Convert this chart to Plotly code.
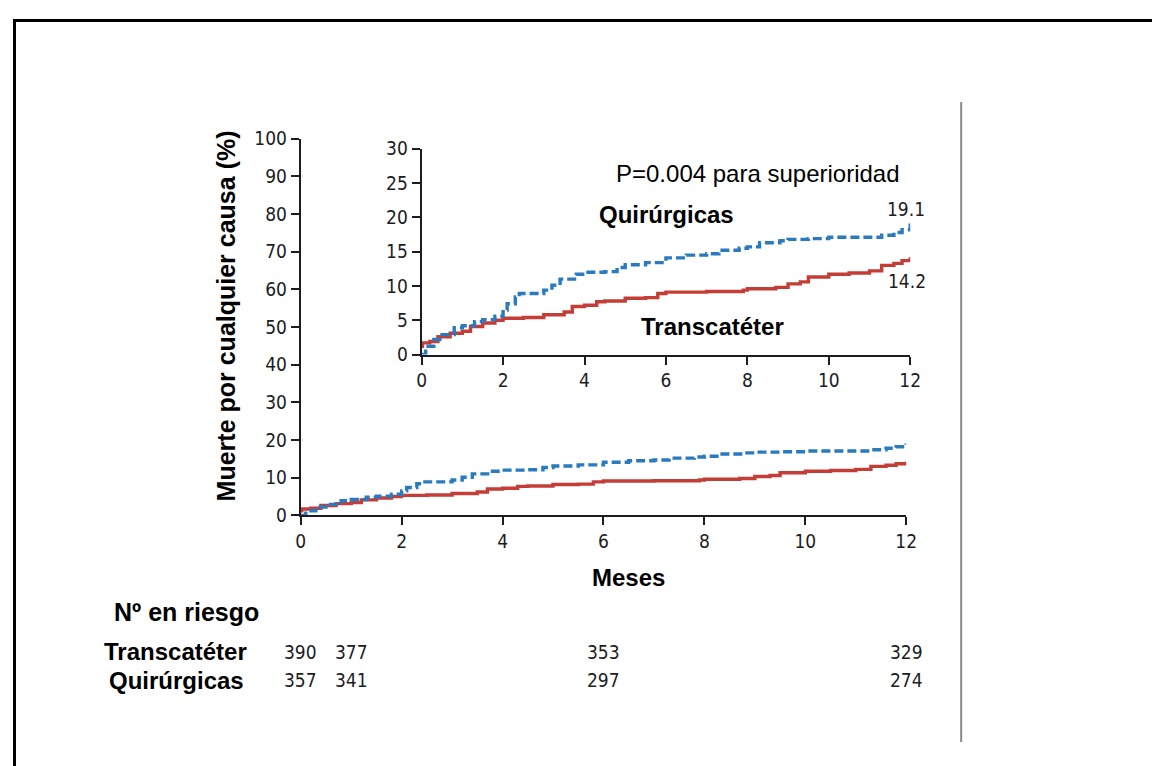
"""Kaplan-Meier style chart: death from any cause, transcatheter vs surgical."""

import plotly.graph_objects as go

W, H = 1160, 766

# curves (months, %)
quir_months = [0, 0.1, 0.3, 0.5, 0.8, 1.0, 1.3, 1.5, 1.8, 2.0, 2.1, 2.3, 2.4, 2.8, 3.0, 3.2,
               3.4, 3.8, 4.0, 4.5, 4.8, 5.0, 5.5, 6.0, 6.5, 7.0, 7.3, 7.8, 8.0, 8.3, 8.8,
               9.0, 9.5, 10.0, 10.5, 11.0, 11.3, 11.6, 11.8, 12.0]
quir_pct = [0, 1.2, 2.2, 2.9, 3.9, 4.2, 4.8, 5.1, 5.6, 6.5, 7.4, 8.4, 8.9, 8.9, 9.4, 10.1,
            11.0, 11.7, 12.0, 12.1, 12.7, 13.1, 13.4, 14.1, 14.5, 14.7, 15.2, 15.5, 15.7,
            16.3, 16.6, 16.8, 16.9, 17.1, 17.1, 17.1, 17.4, 17.8, 18.2, 19.1]

trans_months = [0, 0.02, 0.2, 0.4, 0.7, 1.0, 1.2, 1.5, 1.8, 2.0, 2.5, 3.0, 3.3, 3.5, 3.7,
                4.0, 4.3, 4.5, 5.0, 5.5, 5.8, 6.0, 7.0, 7.9, 8.0, 8.7, 9.0, 9.3, 9.5, 10.0,
                10.5, 11.0, 11.3, 11.6, 11.8, 12.0]
trans_pct = [1.2, 1.7, 1.9, 2.6, 3.1, 3.4, 4.1, 4.6, 5.0, 5.3, 5.4, 5.8, 5.8, 6.2, 7.0,
             7.2, 7.7, 7.8, 8.2, 8.3, 8.9, 9.1, 9.2, 9.4, 9.6, 9.8, 10.3, 10.6, 11.3, 11.7,
             11.9, 12.2, 13.0, 13.3, 13.7, 14.2]

main_yticks = list(range(0, 101, 10))
inset_yticks = list(range(0, 31, 5))
xticks = list(range(0, 13, 2))

risk_months = [0, 1, 6, 12]
risk_trans = [390, 377, 353, 329]
risk_quir = [357, 341, 297, 274]

RED = "#C43E37"
BLUE = "#2A7AC0"
INK = "#1c1c24"
NUM_FONT = dict(family="DejaVu Sans Condensed, DejaVu Sans, sans-serif", size=19, color=INK)
BOLD = "Liberation Sans, Arial, sans-serif"
LABEL_FONT = dict(family=BOLD, size=24, color="black")

# the page ends up drawn in a slightly smaller box, offset from the corner
OX, OY, BW, BH = 12, 18, 1145, 745


def px_x(v):
    return (v - OX) / BW


def px_y(v):
    return 1 - (v - OY) / BH


fig = go.Figure()

for xa, ya in (("x", "y"), ("x2", "y2")):
    fig.add_trace(go.Scatter(
        x=trans_months, y=trans_pct, mode="lines", line_shape="hv",
        line=dict(color=RED, width=3.4), xaxis=xa, yaxis=ya, showlegend=False,
    ))
    fig.add_trace(go.Scatter(
        x=quir_months, y=quir_pct, mode="lines", line_shape="hv",
        line=dict(color=BLUE, width=3.4, dash="9px,4px"), xaxis=xa, yaxis=ya, showlegend=False,
    ))

axis_common = dict(
    showgrid=False, zeroline=False, showline=True, linecolor=INK, linewidth=2,
    ticks="outside", ticklen=8, tickwidth=2, tickcolor=INK, tickfont=NUM_FONT,
    fixedrange=True,
)

fig.update_layout(
    width=W, height=H,
    margin=dict(l=0, r=0, t=0, b=0),
    paper_bgcolor="white", plot_bgcolor="rgba(0,0,0,0)",
    xaxis=dict(domain=[px_x(300), px_x(906)], range=[0, 12], tickvals=xticks,
               anchor="y", **axis_common),
    yaxis=dict(domain=[px_y(515), px_y(138)], range=[0, 100], tickvals=main_yticks,
               anchor="x", **axis_common),
    xaxis2=dict(domain=[px_x(421), px_x(910)], range=[0, 12], tickvals=xticks,
                anchor="y2", **axis_common),
    yaxis2=dict(domain=[px_y(354), px_y(148)], range=[0, 30], tickvals=inset_yticks,
                anchor="x2", **axis_common),
)

ann = []
ann.append(dict(text="<b>Muerte por cualquier causa (%)</b>", x=px_x(225), y=px_y(315),
                textangle=-90, font=dict(family=BOLD, size=25, color="black")))
ann.append(dict(text="<b>Meses</b>", x=px_x(628), y=px_y(577), font=LABEL_FONT))
ann.append(dict(text="P=0.004 para superioridad", x=px_x(758), y=px_y(173),
                font=dict(family=BOLD, size=24, color="black")))
ann.append(dict(text="<b>Quirúrgicas</b>", x=px_x(666), y=px_y(214), font=LABEL_FONT))
ann.append(dict(text="<b>Transcatéter</b>", x=px_x(712), y=px_y(326), font=LABEL_FONT))
ann.append(dict(text="19.1", x=px_x(906), y=px_y(208), font=NUM_FONT))
ann.append(dict(text="14.2", x=px_x(907), y=px_y(280), font=NUM_FONT))

ann.append(dict(text="<b>Nº en riesgo</b>", x=px_x(186), y=px_y(612),
                font=dict(family=BOLD, size=25, color="black")))
ann.append(dict(text="<b>Transcatéter</b>", x=px_x(175), y=px_y(651), font=LABEL_FONT))
ann.append(dict(text="<b>Quirúrgicas</b>", x=px_x(176), y=px_y(680), font=LABEL_FONT))

for m, t, q in zip(risk_months, risk_trans, risk_quir):
    ann.append(dict(text=str(t), x=m, xref="x", y=px_y(652), font=NUM_FONT))
    ann.append(dict(text=str(q), x=m, xref="x", y=px_y(680), font=NUM_FONT))

for a in ann:
    a.setdefault("xref", "paper")
    a.setdefault("yref", "paper")
    a.setdefault("showarrow", False)
    a.setdefault("xanchor", "center")
    a.setdefault("yanchor", "middle")
    fig.add_annotation(**a)

# outer frame (left and top edges) and grey divider
fig.add_shape(type="path", xref="paper", yref="paper",
              path=f"M {px_x(13.5)} -0.1 L {px_x(13.5)} {px_y(19.5)} L 1.1 {px_y(19.5)}",
              line=dict(color="black", width=3))
fig.add_shape(type="line", xref="paper", yref="paper",
              x0=px_x(961), x1=px_x(961), y0=px_y(101), y1=px_y(742),
              line=dict(color="#8a8a8a", width=2))

fig.write_html("out.html")
